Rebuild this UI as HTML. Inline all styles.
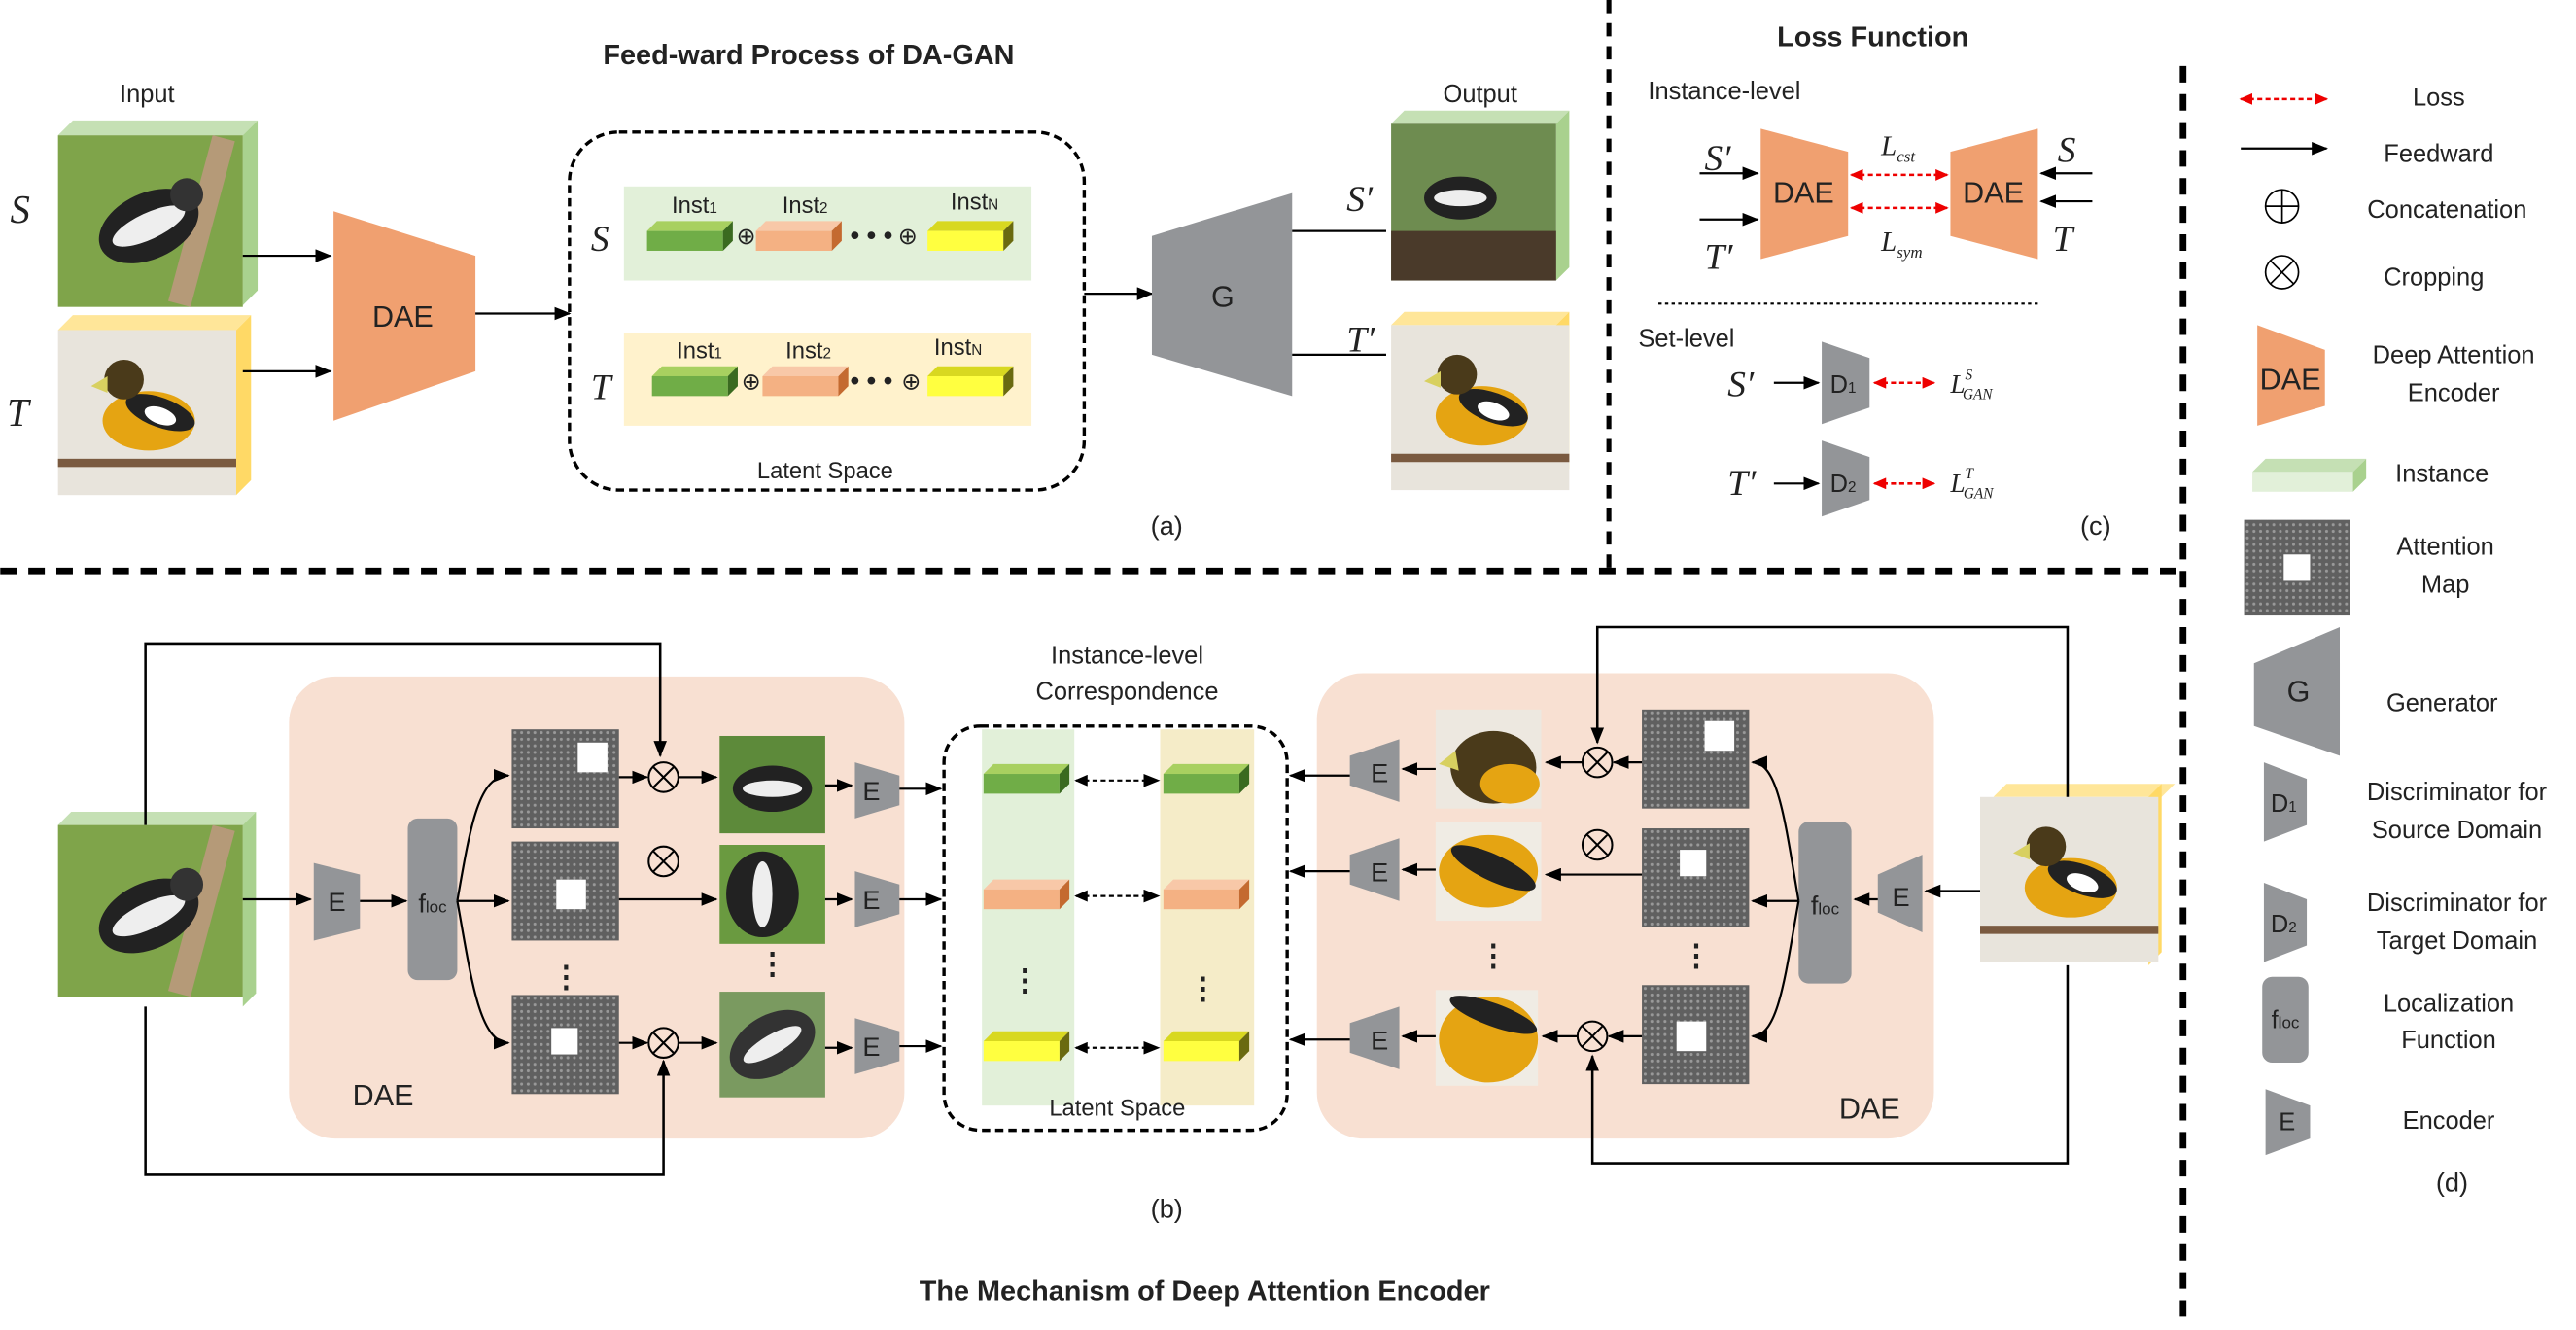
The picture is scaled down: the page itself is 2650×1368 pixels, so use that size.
<!DOCTYPE html>
<html><head><meta charset="utf-8"><style>
html,body{margin:0;padding:0;background:#fff;}
svg{display:block;}
text{font-family:"Liberation Sans",sans-serif;fill:#222;}
.it{font-family:"Liberation Serif",serif;font-style:italic;}
</style></head><body>
<svg width="2650" height="1368" viewBox="0 0 1561 806" xmlns="http://www.w3.org/2000/svg">
<defs>
<marker id="ar" markerWidth="10" markerHeight="8" refX="9" refY="4" orient="auto" markerUnits="userSpaceOnUse"><path d="M0,0 L10,4 L0,8 z" fill="#000"/></marker>
<marker id="rr" markerWidth="8" markerHeight="7" refX="7" refY="3.5" orient="auto" markerUnits="userSpaceOnUse"><path d="M0,0 L8,3.5 L0,7 z" fill="#e00"/></marker>
<marker id="rl" markerWidth="8" markerHeight="7" refX="1" refY="3.5" orient="auto" markerUnits="userSpaceOnUse"><path d="M8,0 L0,3.5 L8,7 z" fill="#e00"/></marker>
<marker id="bl" markerWidth="8" markerHeight="7" refX="1" refY="3.5" orient="auto" markerUnits="userSpaceOnUse"><path d="M8,0 L0,3.5 L8,7 z" fill="#000"/></marker>
<pattern id="dots" width="4" height="4" patternUnits="userSpaceOnUse"><rect width="4" height="4" fill="#606060"/><circle cx="2" cy="2" r="0.9" fill="#999"/></pattern>
<g id="sbird"><rect width="112" height="104" fill="#7fa44a"/><rect x="80" y="0" width="14" height="104" fill="#b59a78" transform="rotate(15 87 52)"/><ellipse cx="55" cy="55" rx="32" ry="20" fill="#222" transform="rotate(-25 55 55)"/><ellipse cx="55" cy="55" rx="24" ry="8" fill="#eee" transform="rotate(-25 55 55)"/><circle cx="78" cy="36" r="10" fill="#333"/></g>
<g id="tbird"><rect width="108" height="100" fill="#e8e4dc"/><rect x="0" y="78" width="108" height="5" fill="#7a5a40"/><ellipse cx="55" cy="55" rx="28" ry="18" fill="#e5a412"/><ellipse cx="62" cy="50" rx="22" ry="9" fill="#222" transform="rotate(20 62 50)"/><ellipse cx="62" cy="52" rx="10" ry="5" fill="#fff" transform="rotate(20 62 52)"/><circle cx="40" cy="30" r="12" fill="#4a3a1a"/><path d="M30 28 l-10 6 l10 4z" fill="#d8d060"/></g>
<g id="map"><rect width="65" height="60" fill="url(#dots)"/></g>
<g id="slabG"><path d="M0,6 L6,0 L52,0 L46,6z" fill="#a8d060"/><rect x="0" y="6" width="46" height="12" fill="#70ad47"/><path d="M46,6 L52,0 L52,12 L46,18z" fill="#3a6a20"/></g>
<g id="slabO"><path d="M0,6 L6,0 L52,0 L46,6z" fill="#f8c8a8"/><rect x="0" y="6" width="46" height="12" fill="#f4b183"/><path d="M46,6 L52,0 L52,12 L46,18z" fill="#c46a30"/></g>
<g id="slabY"><path d="M0,6 L6,0 L52,0 L46,6z" fill="#d8d820"/><rect x="0" y="6" width="46" height="12" fill="#ffff40"/><path d="M46,6 L52,0 L52,12 L46,18z" fill="#6a6a10"/></g>
</defs>

<!-- dividers -->
<line x1="0" y1="346" x2="1320" y2="346" stroke="#000" stroke-width="4" stroke-dasharray="10,7"/>
<line x1="975" y1="0" x2="975" y2="346" stroke="#000" stroke-width="3" stroke-dasharray="8,6"/>
<line x1="1323" y1="40" x2="1323" y2="800" stroke="#000" stroke-width="4" stroke-dasharray="10,7"/>

<!-- (a) -->
<text x="490" y="39" font-size="17" font-weight="bold" text-anchor="middle">Feed-ward Process of DA-GAN</text>
<text x="89" y="62" font-size="15" text-anchor="middle">Input</text>
<text class="it" x="6" y="135" font-size="24">S</text>
<text class="it" x="4" y="258" font-size="24">T</text>
<path d="M35,82 L44,73 L156,73 L147,82z" fill="#c5e0b4"/><path d="M147,82 L156,73 L156,176 L147,185z" fill="#a9d18e"/>
<use href="#sbird" x="35" y="82"/>
<path d="M35,200 L44,191 L152,191 L143,200z" fill="#ffe699"/><path d="M143,200 L152,191 L152,291 L143,300z" fill="#ffd966"/>
<use href="#tbird" x="35" y="200"/>
<line x1="147" y1="155" x2="200" y2="155" stroke="#000" stroke-width="1.3" marker-end="url(#ar)"/>
<line x1="147" y1="225" x2="200" y2="225" stroke="#000" stroke-width="1.3" marker-end="url(#ar)"/>
<path d="M202,128 L288,155 L288,225 L202,255z" fill="#f0a070"/>
<text x="244" y="198" font-size="18" text-anchor="middle">DAE</text>
<line x1="288" y1="190" x2="345" y2="190" stroke="#000" stroke-width="1.3" marker-end="url(#ar)"/>
<rect x="345" y="80" width="312" height="217" rx="30" fill="none" stroke="#000" stroke-width="2" stroke-dasharray="5,3"/>
<rect x="378" y="113" width="247" height="57" fill="#e2f0d9"/>
<rect x="378" y="202" width="247" height="56" fill="#fff2cc"/>
<text class="it" x="358" y="152" font-size="22">S</text>
<text class="it" x="358" y="242" font-size="22">T</text>
<use href="#slabG" x="392" y="134"/><use href="#slabO" x="458" y="134"/><use href="#slabY" x="562" y="134"/>
<use href="#slabG" x="395" y="222"/><use href="#slabO" x="462" y="222"/><use href="#slabY" x="562" y="222"/>
<text x="407" y="129" font-size="14">Inst<tspan font-size="9">1</tspan></text>
<text x="474" y="129" font-size="14">Inst<tspan font-size="9">2</tspan></text>
<text x="576" y="127" font-size="14">Inst<tspan font-size="9">N</tspan></text>
<text x="410" y="217" font-size="14">Inst<tspan font-size="9">1</tspan></text>
<text x="476" y="217" font-size="14">Inst<tspan font-size="9">2</tspan></text>
<text x="566" y="215" font-size="14">Inst<tspan font-size="9">N</tspan></text>
<g font-size="14" text-anchor="middle"><text x="452" y="148">⊕</text><text x="550" y="148">⊕</text><text x="455" y="236">⊕</text><text x="552" y="236">⊕</text></g>
<text x="528" y="148" font-size="16" font-weight="bold" text-anchor="middle">• • •</text>
<text x="528" y="236" font-size="16" font-weight="bold" text-anchor="middle">• • •</text>
<text x="500" y="290" font-size="14" text-anchor="middle">Latent Space</text>
<line x1="657" y1="178" x2="698" y2="178" stroke="#000" stroke-width="1.3" marker-end="url(#ar)"/>
<path d="M698,143 L783,117 L783,240 L698,215z" fill="#939598"/>
<text x="741" y="186" font-size="18" text-anchor="middle">G</text>
<line x1="783" y1="140" x2="840" y2="140" stroke="#000" stroke-width="1.3"/>
<line x1="783" y1="215" x2="840" y2="215" stroke="#000" stroke-width="1.3"/>
<text class="it" x="816" y="128" font-size="22">S′</text>
<text class="it" x="816" y="213" font-size="22">T′</text>
<text x="897" y="62" font-size="15" text-anchor="middle">Output</text>
<path d="M843,75 L851,67 L951,67 L943,75z" fill="#c5e0b4"/><path d="M943,75 L951,67 L951,162 L943,170z" fill="#a9d18e"/>
<rect x="843" y="75" width="100" height="95" fill="#6e8c50"/><rect x="843" y="140" width="100" height="30" fill="#4a3a2a"/><ellipse cx="885" cy="120" rx="22" ry="13" fill="#222"/><ellipse cx="885" cy="120" rx="16" ry="5" fill="#eee"/>
<path d="M843,197 L851,189 L951,189 L943,197z" fill="#ffe699"/><path d="M943,197 L951,189 L951,284 L943,292z" fill="#ffd966"/>
<use href="#tbird" x="843" y="197" transform="scale(1)"/>
<text x="707" y="324" font-size="16" text-anchor="middle">(a)</text>

<!-- (c) -->
<text x="1135" y="28" font-size="17" font-weight="bold" text-anchor="middle">Loss Function</text>
<text x="1045" y="60" font-size="15" text-anchor="middle">Instance-level</text>
<path d="M1067,78 L1120,92 L1120,143 L1067,157z" fill="#f0a070"/>
<path d="M1182,92 L1235,78 L1235,157 L1182,143z" fill="#f0a070"/>
<text x="1093" y="123" font-size="18" text-anchor="middle">DAE</text>
<text x="1208" y="123" font-size="18" text-anchor="middle">DAE</text>
<line x1="1122" y1="106" x2="1180" y2="106" stroke="#e00" stroke-width="1.5" stroke-dasharray="3,2" marker-end="url(#rr)" marker-start="url(#rl)"/>
<line x1="1122" y1="126" x2="1180" y2="126" stroke="#e00" stroke-width="1.5" stroke-dasharray="3,2" marker-end="url(#rr)" marker-start="url(#rl)"/>
<text class="it" x="1140" y="94" font-size="17">L<tspan font-size="10" dy="4">cst</tspan></text>
<text class="it" x="1140" y="152" font-size="17">L<tspan font-size="10" dy="4">sym</tspan></text>
<text class="it" x="1033" y="103" font-size="22">S′</text>
<text class="it" x="1033" y="163" font-size="22">T′</text>
<line x1="1030" y1="105" x2="1065" y2="105" stroke="#000" stroke-width="1.3" marker-end="url(#ar)"/>
<line x1="1030" y1="133" x2="1065" y2="133" stroke="#000" stroke-width="1.3" marker-end="url(#ar)"/>
<text class="it" x="1247" y="98" font-size="22">S</text>
<text class="it" x="1244" y="152" font-size="22">T</text>
<line x1="1268" y1="105" x2="1237" y2="105" stroke="#000" stroke-width="1.3" marker-end="url(#ar)"/>
<line x1="1268" y1="122" x2="1237" y2="122" stroke="#000" stroke-width="1.3" marker-end="url(#ar)"/>
<line x1="1005" y1="184" x2="1237" y2="184" stroke="#000" stroke-width="1.2" stroke-dasharray="2,2"/>
<text x="1022" y="210" font-size="15" text-anchor="middle">Set-level</text>
<text class="it" x="1047" y="240" font-size="22">S′</text>
<line x1="1075" y1="232" x2="1102" y2="232" stroke="#000" stroke-width="1.3" marker-end="url(#ar)"/>
<path d="M1104,207 L1133,217 L1133,247 L1104,257z" fill="#939598"/>
<text x="1117" y="238" font-size="15" text-anchor="middle">D<tspan font-size="9">1</tspan></text>
<line x1="1136" y1="232" x2="1172" y2="232" stroke="#e00" stroke-width="1.5" stroke-dasharray="3,2" marker-end="url(#rr)" marker-start="url(#rl)"/>
<text class="it" x="1182" y="238" font-size="16">L<tspan font-size="9" dy="-8">S</tspan><tspan font-size="9" dx="-6" dy="12">GAN</tspan></text>
<text class="it" x="1047" y="300" font-size="22">T′</text>
<line x1="1075" y1="293" x2="1102" y2="293" stroke="#000" stroke-width="1.3" marker-end="url(#ar)"/>
<path d="M1104,267 L1133,277 L1133,303 L1104,313z" fill="#939598"/>
<text x="1117" y="298" font-size="15" text-anchor="middle">D<tspan font-size="9">2</tspan></text>
<line x1="1136" y1="293" x2="1172" y2="293" stroke="#e00" stroke-width="1.5" stroke-dasharray="3,2" marker-end="url(#rr)" marker-start="url(#rl)"/>
<text class="it" x="1182" y="298" font-size="16">L<tspan font-size="9" dy="-8">T</tspan><tspan font-size="9" dx="-6" dy="12">GAN</tspan></text>
<text x="1270" y="324" font-size="16" text-anchor="middle">(c)</text>

<!-- (d) legend -->
<g font-size="15" text-anchor="middle">
<line x1="1358" y1="60" x2="1410" y2="60" stroke="#e00" stroke-width="1.5" stroke-dasharray="3,2" marker-end="url(#rr)" marker-start="url(#rl)"/>
<text x="1478" y="64">Loss</text>
<line x1="1358" y1="90" x2="1410" y2="90" stroke="#000" stroke-width="1.3" marker-end="url(#ar)"/>
<text x="1478" y="98">Feedward</text>
<circle cx="1383" cy="125" r="10" fill="none" stroke="#000" stroke-width="1"/><line x1="1373" y1="125" x2="1393" y2="125" stroke="#000"/><line x1="1383" y1="115" x2="1383" y2="135" stroke="#000"/>
<text x="1483" y="132">Concatenation</text>
<circle cx="1383" cy="165" r="10" fill="none" stroke="#000" stroke-width="1"/><line x1="1376" y1="158" x2="1390" y2="172" stroke="#000"/><line x1="1390" y1="158" x2="1376" y2="172" stroke="#000"/>
<text x="1475" y="173">Cropping</text>
<path d="M1368,197 L1409,212 L1409,246 L1368,258z" fill="#f0a070"/>
<text x="1388" y="236" font-size="18">DAE</text>
<text x="1487" y="220">Deep Attention</text><text x="1487" y="243">Encoder</text>
<path d="M1365,286 L1373,278 L1434,278 L1426,286z" fill="#c5e0b4"/><rect x="1365" y="286" width="61" height="12" fill="#e2f0d9"/><path d="M1426,286 L1434,278 L1434,290 L1426,298z" fill="#a9d18e"/>
<text x="1480" y="292">Instance</text>
<rect x="1360" y="315" width="64" height="58" fill="url(#dots)"/><rect x="1384" y="336" width="16" height="16" fill="#fff"/>
<text x="1482" y="336">Attention</text><text x="1482" y="359">Map</text>
<path d="M1366,402 L1418,380 L1418,458 L1366,440z" fill="#939598"/>
<text x="1393" y="425" font-size="18">G</text>
<text x="1480" y="431">Generator</text>
<path d="M1372,462 L1398,472 L1398,500 L1372,510z" fill="#939598"/>
<text x="1384" y="492">D<tspan font-size="9">1</tspan></text>
<text x="1489" y="485">Discriminator for</text><text x="1489" y="508">Source Domain</text>
<path d="M1372,535 L1398,545 L1398,573 L1372,583z" fill="#939598"/>
<text x="1384" y="565">D<tspan font-size="9">2</tspan></text>
<text x="1489" y="552">Discriminator for</text><text x="1489" y="575">Target Domain</text>
<rect x="1371" y="592" width="28" height="52" rx="6" fill="#939598"/>
<text x="1385" y="623">f<tspan font-size="10">loc</tspan></text>
<text x="1484" y="613">Localization</text><text x="1484" y="635">Function</text>
<path d="M1373,660 L1400,670 L1400,690 L1373,700z" fill="#939598"/>
<text x="1386" y="685">E</text>
<text x="1484" y="684">Encoder</text>
<text x="1486" y="722" font-size="16">(d)</text>
</g>

<!-- (b) -->
<rect x="175" y="410" width="373" height="280" rx="28" fill="#f8e0d2"/>
<rect x="798" y="408" width="374" height="282" rx="28" fill="#f8e0d2"/>
<text x="683" y="402" font-size="15" text-anchor="middle">Instance-level</text>
<text x="683" y="424" font-size="15" text-anchor="middle">Correspondence</text>
<path d="M35,500 L43,492 L155,492 L147,500z" fill="#c5e0b4"/><path d="M147,500 L155,492 L155,602 L147,610z" fill="#a9d18e"/>
<use href="#sbird" x="35" y="500" transform="translate(0,0)"/>
<line x1="147" y1="545" x2="188" y2="545" stroke="#000" stroke-width="1.3" marker-end="url(#ar)"/>
<path d="M190,530 L218,523 L218,570 L190,563z" fill="#939598" transform="rotate(180 204 546.5)"/>
<text x="204" y="552" font-size="16" text-anchor="middle">E</text>
<line x1="218" y1="546" x2="246" y2="546" stroke="#000" stroke-width="1.3" marker-end="url(#ar)"/>
<rect x="247" y="496" width="30" height="98" rx="6" fill="#939598"/>
<text x="262" y="553" font-size="16" text-anchor="middle">f<tspan font-size="10">loc</tspan></text>
<path d="M277,546 C285,500 290,470 308,470" fill="none" stroke="#000" stroke-width="1.3" marker-end="url(#ar)"/>
<line x1="277" y1="546" x2="308" y2="546" stroke="#000" stroke-width="1.3" marker-end="url(#ar)"/>
<path d="M277,546 C285,590 290,632 308,632" fill="none" stroke="#000" stroke-width="1.3" marker-end="url(#ar)"/>
<use href="#map" x="310" y="442"/><rect x="350" y="450" width="18" height="18" fill="#fff"/>
<use href="#map" x="310" y="510"/><rect x="337" y="533" width="18" height="18" fill="#fff"/>
<use href="#map" x="310" y="603"/><rect x="334" y="623" width="16" height="16" fill="#fff"/>
<text x="343" y="598" font-size="18" font-weight="bold" text-anchor="middle">⋮</text>
<g fill="none" stroke="#000" stroke-width="1.2">
<circle cx="402" cy="471" r="9"/><path d="M396,465 l12,12 M408,465 l-12,12"/>
<circle cx="402" cy="522" r="9"/><path d="M396,516 l12,12 M408,516 l-12,12"/>
<circle cx="402" cy="632" r="9"/><path d="M396,626 l12,12 M408,626 l-12,12"/>
</g>
<line x1="375" y1="471" x2="392" y2="471" stroke="#000" stroke-width="1.3" marker-end="url(#ar)"/>
<line x1="411" y1="471" x2="434" y2="471" stroke="#000" stroke-width="1.3" marker-end="url(#ar)"/>
<line x1="375" y1="545" x2="434" y2="545" stroke="#000" stroke-width="1.3" marker-end="url(#ar)"/>
<line x1="375" y1="632" x2="392" y2="632" stroke="#000" stroke-width="1.3" marker-end="url(#ar)"/>
<line x1="411" y1="632" x2="434" y2="632" stroke="#000" stroke-width="1.3" marker-end="url(#ar)"/>
<g><rect x="436" y="446" width="64" height="59" fill="#5d8a3a"/><ellipse cx="468" cy="478" rx="24" ry="14" fill="#222"/><ellipse cx="468" cy="478" rx="18" ry="5" fill="#eee"/></g>
<g><rect x="436" y="512" width="64" height="60" fill="#6a9a40"/><ellipse cx="462" cy="542" rx="22" ry="26" fill="#222"/><ellipse cx="462" cy="542" rx="6" ry="20" fill="#eee"/></g>
<g><rect x="436" y="601" width="64" height="64" fill="#7a9a60"/><ellipse cx="468" cy="633" rx="28" ry="18" fill="#333" transform="rotate(-30 468 633)"/><ellipse cx="468" cy="633" rx="20" ry="6" fill="#eee" transform="rotate(-30 468 633)"/></g>
<text x="468" y="590" font-size="18" font-weight="bold" text-anchor="middle">⋮</text>
<line x1="500" y1="476" x2="516" y2="476" stroke="#000" stroke-width="1.3" marker-end="url(#ar)"/>
<line x1="500" y1="545" x2="516" y2="545" stroke="#000" stroke-width="1.3" marker-end="url(#ar)"/>
<line x1="500" y1="635" x2="516" y2="635" stroke="#000" stroke-width="1.3" marker-end="url(#ar)"/>
<g fill="#939598"><path d="M518,462 L545,470 L545,488 L518,496z"/><path d="M518,528 L545,536 L545,554 L518,562z"/><path d="M518,617 L545,625 L545,643 L518,651z"/></g>
<g font-size="16" text-anchor="middle"><text x="528" y="485">E</text><text x="528" y="551">E</text><text x="528" y="640">E</text></g>
<line x1="545" y1="478" x2="570" y2="478" stroke="#000" stroke-width="1.3" marker-end="url(#ar)"/>
<line x1="545" y1="545" x2="570" y2="545" stroke="#000" stroke-width="1.3" marker-end="url(#ar)"/>
<line x1="545" y1="634" x2="570" y2="634" stroke="#000" stroke-width="1.3" marker-end="url(#ar)"/>
<text x="232" y="670" font-size="18" text-anchor="middle">DAE</text>
<path d="M88,500 L88,390 L400,390 L400,458" fill="none" stroke="#000" stroke-width="1.5" marker-end="url(#ar)"/>
<path d="M88,610 L88,712 L402,712 L402,643" fill="none" stroke="#000" stroke-width="1.5" marker-end="url(#ar)"/>

<rect x="572" y="440" width="208" height="245" rx="22" fill="none" stroke="#000" stroke-width="2" stroke-dasharray="5,3"/>
<rect x="595" y="442" width="56" height="228" fill="#e2f0d9"/>
<rect x="703" y="442" width="57" height="228" fill="#f5ecc8"/>
<use href="#slabG" x="596" y="463"/><use href="#slabO" x="596" y="533"/><use href="#slabY" x="596" y="625"/>
<use href="#slabG" x="705" y="463"/><use href="#slabO" x="705" y="533"/><use href="#slabY" x="705" y="625"/>
<g stroke="#000" stroke-width="1.3" stroke-dasharray="3,2"><line x1="652" y1="473" x2="702" y2="473" marker-end="url(#ar)" marker-start="url(#bl)"/><line x1="652" y1="543" x2="702" y2="543" marker-end="url(#ar)" marker-start="url(#bl)"/><line x1="652" y1="635" x2="702" y2="635" marker-end="url(#ar)" marker-start="url(#bl)"/></g>
<text x="621" y="600" font-size="18" font-weight="bold" text-anchor="middle">⋮</text>
<text x="729" y="605" font-size="18" font-weight="bold" text-anchor="middle">⋮</text>
<text x="677" y="676" font-size="14" text-anchor="middle">Latent Space</text>

<!-- right DAE -->
<path d="M1208,483 L1216,475 L1318,475 L1310,483z" fill="#ffe699"/><path d="M1302,483 L1310,475 L1310,577 L1302,585z" fill="#ffd966"/>
<use href="#tbird" x="1200" y="483" transform="translate(0,0)"/>
<line x1="1200" y1="540" x2="1167" y2="540" stroke="#000" stroke-width="1.3" marker-end="url(#ar)"/>
<path d="M1138,530 L1165,518 L1165,565 L1138,553z" fill="#939598"/>
<text x="1152" y="549" font-size="16" text-anchor="middle">E</text>
<line x1="1138" y1="545" x2="1124" y2="545" stroke="#000" stroke-width="1.3" marker-end="url(#ar)"/>
<rect x="1090" y="498" width="32" height="98" rx="6" fill="#939598"/>
<text x="1106" y="554" font-size="16" text-anchor="middle">f<tspan font-size="10">loc</tspan></text>
<path d="M1090,546 C1082,500 1078,462 1062,462" fill="none" stroke="#000" stroke-width="1.3" marker-end="url(#ar)"/>
<line x1="1090" y1="546" x2="1062" y2="546" stroke="#000" stroke-width="1.3" marker-end="url(#ar)"/>
<path d="M1090,546 C1082,590 1078,628 1062,628" fill="none" stroke="#000" stroke-width="1.3" marker-end="url(#ar)"/>
<use href="#map" x="995" y="430"/><rect x="1033" y="437" width="18" height="18" fill="#fff"/>
<use href="#map" x="995" y="502"/><rect x="1018" y="515" width="16" height="16" fill="#fff"/>
<use href="#map" x="995" y="597"/><rect x="1016" y="619" width="18" height="18" fill="#fff"/>
<text x="1028" y="585" font-size="18" font-weight="bold" text-anchor="middle">⋮</text>
<g fill="none" stroke="#000" stroke-width="1.2">
<circle cx="968" cy="462" r="9"/><path d="M962,456 l12,12 M974,456 l-12,12"/>
<circle cx="968" cy="512" r="9"/><path d="M962,506 l12,12 M974,506 l-12,12"/>
<circle cx="965" cy="628" r="9"/><path d="M959,622 l12,12 M971,622 l-12,12"/>
</g>
<line x1="995" y1="462" x2="978" y2="462" stroke="#000" stroke-width="1.3" marker-end="url(#ar)"/>
<line x1="959" y1="462" x2="937" y2="462" stroke="#000" stroke-width="1.3" marker-end="url(#ar)"/>
<line x1="995" y1="530" x2="937" y2="530" stroke="#000" stroke-width="1.3" marker-end="url(#ar)"/>
<line x1="995" y1="628" x2="975" y2="628" stroke="#000" stroke-width="1.3" marker-end="url(#ar)"/>
<line x1="956" y1="628" x2="935" y2="628" stroke="#000" stroke-width="1.3" marker-end="url(#ar)"/>
<g><rect x="870" y="430" width="64" height="60" fill="#ede8e0"/><ellipse cx="905" cy="465" rx="26" ry="22" fill="#4a3a1a"/><ellipse cx="915" cy="475" rx="18" ry="12" fill="#e5a412"/><path d="M882,455 l-10,8 l12,4z" fill="#d8d060"/></g>
<g><rect x="870" y="498" width="64" height="60" fill="#f0ece4"/><ellipse cx="902" cy="528" rx="30" ry="22" fill="#e5a412"/><ellipse cx="905" cy="526" rx="28" ry="8" fill="#222" transform="rotate(25 905 526)"/></g>
<g><rect x="870" y="600" width="62" height="58" fill="#f0ece4"/><ellipse cx="902" cy="630" rx="30" ry="26" fill="#e5a412"/><ellipse cx="905" cy="615" rx="28" ry="7" fill="#222" transform="rotate(20 905 615)"/></g>
<text x="905" y="585" font-size="18" font-weight="bold" text-anchor="middle">⋮</text>
<line x1="870" y1="466" x2="850" y2="466" stroke="#000" stroke-width="1.3" marker-end="url(#ar)"/>
<line x1="870" y1="527" x2="850" y2="527" stroke="#000" stroke-width="1.3" marker-end="url(#ar)"/>
<line x1="870" y1="628" x2="850" y2="628" stroke="#000" stroke-width="1.3" marker-end="url(#ar)"/>
<g fill="#939598"><path d="M818,458 L848,448 L848,486 L818,476z"/><path d="M818,518 L848,508 L848,546 L818,536z"/><path d="M818,620 L848,610 L848,648 L818,638z"/></g>
<g font-size="16" text-anchor="middle"><text x="836" y="474">E</text><text x="836" y="534">E</text><text x="836" y="636">E</text></g>
<line x1="818" y1="470" x2="782" y2="470" stroke="#000" stroke-width="1.3" marker-end="url(#ar)"/>
<line x1="818" y1="528" x2="782" y2="528" stroke="#000" stroke-width="1.3" marker-end="url(#ar)"/>
<line x1="818" y1="630" x2="782" y2="630" stroke="#000" stroke-width="1.3" marker-end="url(#ar)"/>
<text x="1133" y="678" font-size="18" text-anchor="middle">DAE</text>
<path d="M1253,483 L1253,380 L968,380 L968,450" fill="none" stroke="#000" stroke-width="1.5" marker-end="url(#ar)"/>
<path d="M1253,585 L1253,705 L965,705 L965,640" fill="none" stroke="#000" stroke-width="1.5" marker-end="url(#ar)"/>
<text x="707" y="738" font-size="16" text-anchor="middle">(b)</text>
<text x="730" y="788" font-size="17" font-weight="bold" text-anchor="middle">The Mechanism of Deep Attention Encoder</text>
</svg>
</body></html>
